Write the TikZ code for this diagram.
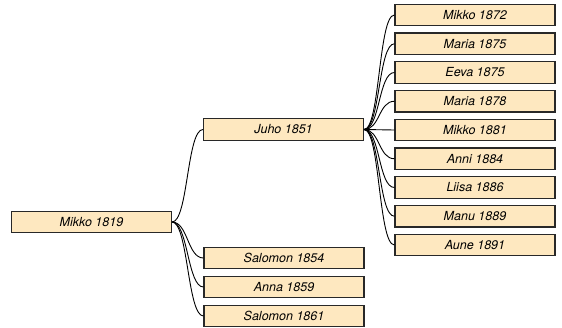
\documentclass[tikz,border=0pt]{standalone}
\usepackage{fontspec}
\setmainfont{TeX Gyre Heros}
\definecolor{boxfill}{RGB}{254,232,192}
\definecolor{boxline}{RGB}{40,40,40}
\begin{document}
\begin{tikzpicture}[x=1pt,y=-1pt,
  person/.style={draw=boxline, line width=1.1pt, fill=boxfill, minimum width=160pt, minimum height=21.5pt, inner sep=0pt, font=\fontsize{12.5}{14}\selectfont\itshape},
  link/.style={draw=black, line width=0.9pt}]
\useasboundingbox (0,0) rectangle (562,327);
\node[person] (m1819) at (91.5,222) {Mikko 1819};
\node[person] (juho) at (283.5,129.5) {Juho 1851};
\node[person] (sal54) at (284,258) {Salomon 1854};
\node[person] (anna) at (284,287) {Anna 1859};
\node[person] (sal61) at (284,316) {Salomon 1861};
\node[person] (c1) at (475,15) {Mikko 1872};
\node[person] (c2) at (475,43.75) {Maria 1875};
\node[person] (c3) at (475,72.5) {Eeva 1875};
\node[person] (c4) at (475,101.25) {Maria 1878};
\node[person] (c5) at (475,130) {Mikko 1881};
\node[person] (c6) at (475,158.75) {Anni 1884};
\node[person] (c7) at (475,187.5) {Liisa 1886};
\node[person] (c8) at (475,216.25) {Manu 1889};
\node[person] (c9) at (475,245) {Aune 1891};
\foreach \c in {juho,sal54,anna,sal61}
  \draw[link] (m1819.east) .. controls +(16,0) and +(-16,0) .. (\c.west);
\foreach \c in {c1,c2,c3,c4,c5,c6,c7,c8,c9}
  \draw[link] (juho.east) .. controls +(16,0) and +(-16,0) .. (\c.west);
\end{tikzpicture}
\end{document}
